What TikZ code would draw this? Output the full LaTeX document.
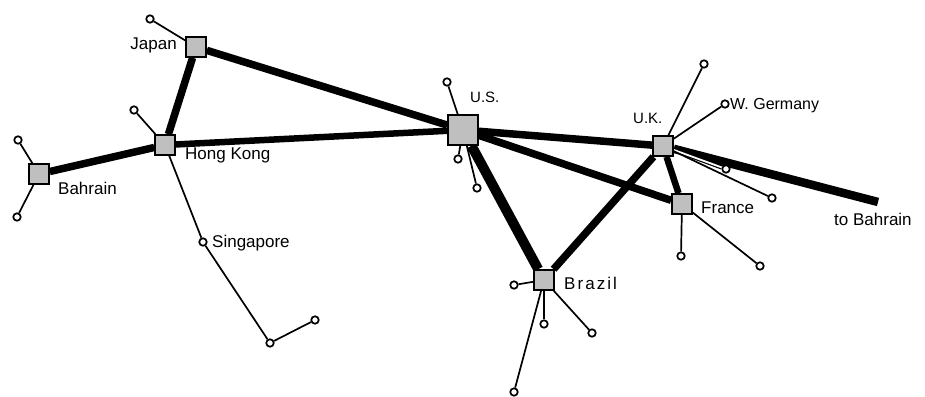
\documentclass[tikz,border=0pt]{standalone}
\usepackage{fontspec}
\setmainfont{Liberation Sans}
\usetikzlibrary{backgrounds}
\begin{document}
\begin{tikzpicture}[x=1pt,y=-1pt,
  hub/.style={draw,line width=1.6pt,fill=gray!50,minimum size=20pt,inner sep=0pt},
  leaf/.style={draw,circle,line width=1.7pt,fill=white,minimum size=7.5pt,inner sep=0pt},
  trunk/.style={line width=7.5pt},
  spur/.style={line width=1.7pt},
  lbl/.style={font=\fontsize{17}{19}\selectfont,inner sep=0pt}]
\useasboundingbox (0,0) rectangle (925,396);
% hubs
\node[hub] (jp) at (196,47) {};
\node[hub] (hk) at (165,145) {};
\node[hub] (bh) at (39,174) {};
\node[hub,minimum size=30pt] (us) at (463,130) {};
\node[hub] (uk) at (663,146) {};
\node[hub] (fr) at (682,204) {};
\node[hub] (br) at (544,280) {};
\coordinate (tb) at (878,202);
% leaves
\node[leaf] (j1) at (150,19) {};
\node[leaf] (h1) at (134,110) {};
\node[leaf] (sg) at (203,242) {};
\node[leaf] (s2) at (270,343) {};
\node[leaf] (s3) at (315,320) {};
\node[leaf] (b1) at (18,140) {};
\node[leaf] (b2) at (17,217) {};
\node[leaf] (u1) at (447,82) {};
\node[leaf] (u2) at (458,159) {};
\node[leaf] (u3) at (477,188) {};
\node[leaf] (k1) at (704,64) {};
\node[leaf] (k2) at (725,104) {};
\node[leaf] (k3) at (726,169) {};
\node[leaf] (k4) at (772,198) {};
\node[leaf] (f1) at (681,256) {};
\node[leaf] (f2) at (760,266) {};
\node[leaf] (z1) at (514,285) {};
\node[leaf] (z2) at (544,324) {};
\node[leaf] (z3) at (592,333) {};
\node[leaf] (z4) at (514,392) {};
% labels
\node[lbl,anchor=east] (ljp) at (177,45) {Japan};
\node[lbl,anchor=west] (lhk) at (185,155) {Hong Kong};
\node[lbl,anchor=west] (lbh) at (58,188) {Bahrain};
\node[lbl,anchor=west] (lsg) at (212,243) {Singapore};
\node[lbl,anchor=west,font=\fontsize{15}{17}\selectfont] (lus) at (470,97) {U.S.};
\node[lbl,anchor=west,font=\fontsize{15}{17}\selectfont] (luk) at (633,118) {U.K.};
\node[lbl,anchor=west,font=\fontsize{16}{18}\selectfont] (lwg) at (730,106) {W. Germany};
\node[lbl,anchor=west] (lfr) at (701,208) {France};
\node[lbl,anchor=west] (lbr) at (564,283) {\addfontfeature{LetterSpace=12}Brazil};
\node[lbl,anchor=west] (ltb) at (834,219) {to Bahrain};
\begin{scope}[on background layer]
  \draw[trunk] (jp) -- (us);
  \draw[trunk] (jp) -- (hk);
  \draw[line width=6.5pt] (hk) -- (us);
  \draw[trunk] (hk) -- (bh);
  \draw[trunk] (us) -- (uk);
  \draw[trunk] (us) -- (fr);
  \draw[line width=10pt] (us) -- (br);
  \draw[trunk] (br) -- (uk);
  \draw[line width=6.5pt] (uk) -- (fr);
  \draw[line width=8.5pt] (uk) -- (tb);
  \draw[spur] (jp) -- (j1);
  \draw[spur] (hk) -- (h1);
  \draw[spur] (hk) -- (sg) -- (s2) -- (s3);
  \draw[spur] (bh) -- (b1);
  \draw[spur] (bh) -- (b2);
  \draw[spur] (us) -- (u1);
  \draw[spur] (us) -- (u2);
  \draw[spur] (us) -- (u3);
  \draw[spur] (uk) -- (k1);
  \draw[spur] (uk) -- (k2);
  \draw[line width=1.2pt,double,double distance=1.8pt] (uk) -- (k3);
  \draw[spur] (uk) -- (k4);
  \draw[spur] (fr) -- (f1);
  \draw[spur] (fr) -- (f2);
  \draw[spur] (br) -- (z1);
  \draw[spur] (br) -- (z2);
  \draw[spur] (br) -- (z3);
  \draw[spur] (br) -- (z4);
\end{scope}
\end{tikzpicture}
\end{document}
